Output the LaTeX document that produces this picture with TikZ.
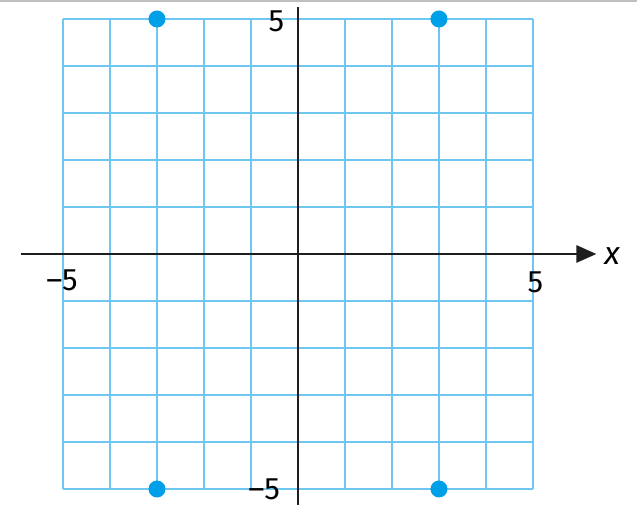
\documentclass[tikz,border=0pt]{standalone}
\usepackage{fontspec}
\setmainfont{Fira Sans}
\usetikzlibrary{arrows.meta}
\definecolor{gridblue}{RGB}{110,198,242}
\definecolor{dotblue}{RGB}{0,160,232}
\definecolor{axisgray}{RGB}{30,30,30}
\tikzset{
  gridline/.style={draw=gridblue, line width=2pt},
  axisline/.style={draw=axisgray, line width=2.6pt},
  dot/.style={circle, fill=dotblue, inner sep=0pt, minimum size=17pt},
  ticklabel/.style={font=\fontsize{31}{31}\selectfont, inner sep=0pt}
}
\begin{document}
\begin{tikzpicture}[x=47pt,y=47pt]
\useasboundingbox (-6.34,-5.489) rectangle (7.213,5.404);
\draw[draw=black!25, line width=1.5pt] (-6.34,5.38) -- (7.213,5.38);
% grid
\draw[gridline, step=1] (-5,-5) grid (5,5);
% axes
\coordinate (xs) at (-5.9,0);
\coordinate (xe) at (6.35,0);
\coordinate (ys) at (0,5.25);
\coordinate (ye) at (0,-5.35);
\draw[axisline, -{Triangle[length=20pt,width=17pt]}] (xs) -- (xe);
\draw[axisline] (ys) -- (ye);
% labels
\node[ticklabel, font=\fontsize{32}{32}\selectfont\itshape] (xl) at (6.68,-0.05) {x};
\node[ticklabel] (ytop) at (-0.46,4.95) {5};
\node[ticklabel] (ybot) at (-0.72,-5.0) {–5};
\node[ticklabel] (xleft) at (-5.02,-0.55) {–5};
\node[ticklabel] (xright) at (5.05,-0.6) {5};
% points
\node[dot] (p1) at (-3,5) {};
\node[dot] (p2) at (3,5) {};
\node[dot] (p3) at (-3,-5) {};
\node[dot] (p4) at (3,-5) {};
\end{tikzpicture}
\end{document}
